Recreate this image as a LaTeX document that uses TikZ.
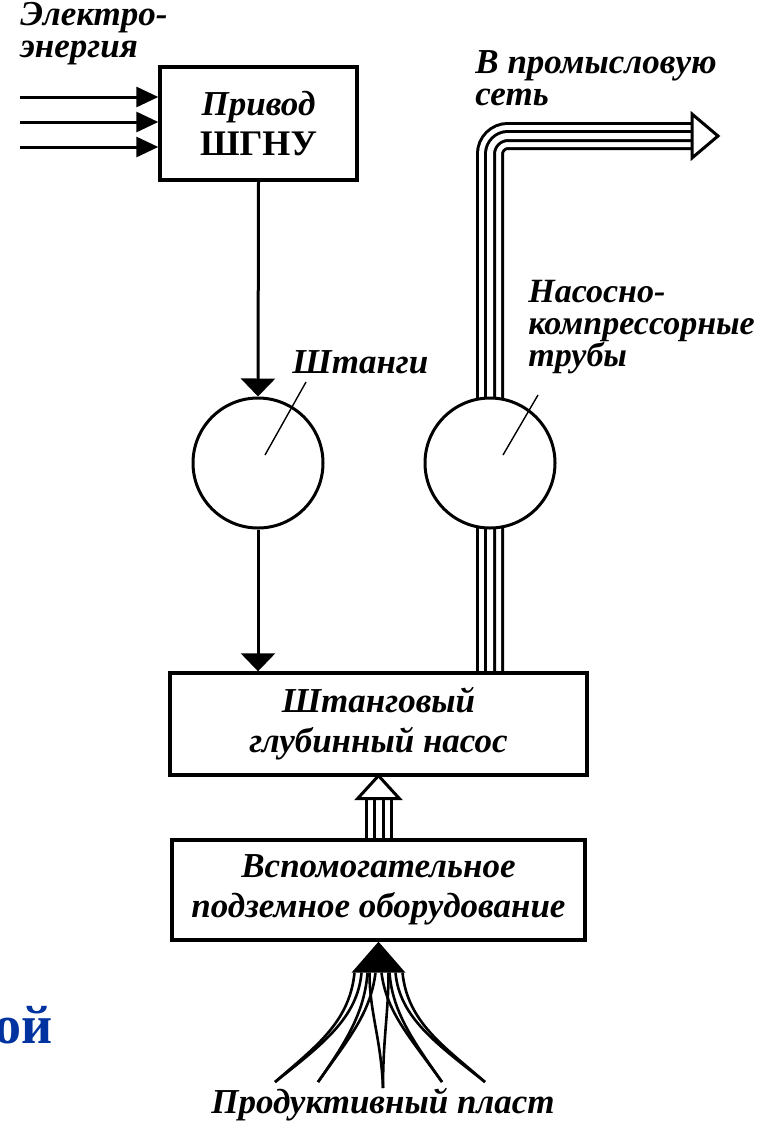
\documentclass[tikz,border=0pt]{standalone}
\usepackage{fontspec}
\setmainfont{Liberation Serif}
\usetikzlibrary{arrows.meta,calc,backgrounds}
\definecolor{slideblue}{RGB}{0,51,160}

\begin{document}
\begin{tikzpicture}[x=0.5pt, y=-0.5pt,
  blok/.style={draw, line width=1.7pt, fill=white, align=center, inner sep=0pt,
    font=\fontsize{17.5}{20}\selectfont\bfseries\itshape},
  uzel/.style={circle, draw, line width=1.5pt, fill=white, minimum size=65pt, inner sep=0pt},
  metka/.style={align=left, inner sep=0pt, anchor=north west,
    font=\fontsize{17.5}{16}\selectfont\bfseries\itshape},
  potok/.style={-{Triangle[length=9pt, width=17pt]}, line width=1.5pt},
  vvod/.style={-{Triangle[length=11pt, width=10pt]}, line width=1.5pt},
  vynoska/.style={line width=0.7pt},
  zhila/.style={line width=1.3pt}]
\useasboundingbox (0,0) rectangle (760,1124);

\node[blok, minimum width=98.5pt, minimum height=56.5pt] (privod) at (258.5,123.5)
  {Привод\\{\normalfont\bfseries\fontsize{18}{20}\selectfont ШГНУ}};
\node[uzel] (shtangi) at (258,463) {};
\node[uzel] (nkt) at (490,463) {};
\node[blok, minimum width=208.5pt, minimum height=51pt] (nasos) at (378.5,724)
  {Штанговый\\глубинный насос};
\node[blok, minimum width=206.5pt, minimum height=50pt] (oborud) at (378.5,890)
  {Вспомогательное\\подземное оборудование};

% labels
\node[metka] (energ) at (20,2) {Электро-\\энергия};
\node[metka] (set) at (475,50) {В промысловую\\сеть};
\node[metka, font=\fontsize{17}{16}\selectfont\bfseries\itshape] (trub) at (528,280) {Насосно-\\компрессорные\\трубы};
\node[metka] (shtlbl) at (292,350) {Штанги};
\node[metka, anchor=north] (plast) at (383,1088) {Продуктивный пласт};
\node[anchor=base west, inner sep=0pt, text=slideblue,
  font=\fontsize{27}{30}\selectfont\bfseries] (obryv) at (-6,1043) {ой};

% electricity
\coordinate (e1) at (20,97);
\coordinate (e2) at (20,122);
\coordinate (e3) at (20,147);
\draw[vvod] (e1) -- (e1 -| privod.west);
\draw[vvod] (e2) -- (e2 -| privod.west);
\draw[vvod] (e3) -- (e3 -| privod.west);

% rods
\draw[potok] (privod.south) -- (shtangi.north);
\draw[potok] (shtangi.south) -- (shtangi.south |- nasos.north);
\draw[vynoska] ($(shtangi)+(7,-8)$) -- ($(shtangi)+(48,-81)$);
\draw[vynoska] ($(nkt)+(13,-8)$) -- ($(nkt)+(48,-68)$);

% tubing
\coordinate (vyhod) at (692,136);
\coordinate (vhod) at ($(nasos.south)+(0,22)$);
\begin{scope}[on background layer]
\foreach \w/\c in {14/black, 11/white, 6/black, 3/white}
  \draw[line width=\w pt, draw=\c, rounded corners=9pt] (nasos.north -| nkt) |- (vyhod);
\foreach \w/\c in {14/black, 11/white, 6/black, 3/white}
  \draw[line width=\w pt, draw=\c] (oborud.north) -- (vhod);
\end{scope}
\draw[line width=1.5pt, fill=white, line join=miter] (vyhod) -- ++(0,-22) -- ++(26,22) -- ++(-26,22) -- cycle;
\draw[line width=1.5pt, fill=white, line join=miter] (vhod) -- ++(-21,0) -- ++(21,-23) -- ++(21,23) -- cycle;

% inflow from the formation
\coordinate (fan) at ($(oborud.south)+(0,31)$);
\coordinate (s1) at (275,1082);
\coordinate (s2) at (318,1082);
\coordinate (s3) at (383,1088);
\coordinate (s4) at (442,1082);
\coordinate (s5) at (485,1082);
\draw[zhila] (s1) .. controls +(40,-35) and +(-5,50) .. ($(fan)+(-24,0)$);
\draw[zhila] (s1) .. controls +(48,-38) and +(-4,45) .. ($(fan)+(-17,0)$);
\draw[zhila] (s2) .. controls +(28,-40) and +(-3,40) .. ($(fan)+(-11,0)$);
\draw[zhila] (s2) .. controls +(32,-45) and +(-5,40) .. ($(fan)+(-3,0)$);
\draw[zhila] (s3) .. controls +(-2,-50) and +(0,40) .. ($(fan)+(-9,0)$);
\draw[zhila] (s3) .. controls +(0,-50) and +(0,40) .. ($(fan)+(10,0)$);
\draw[zhila] (s4) .. controls +(-28,-40) and +(3,40) .. ($(fan)+(11,0)$);
\draw[zhila] (s4) .. controls +(-32,-45) and +(5,40) .. ($(fan)+(3,0)$);
\draw[zhila] (s5) .. controls +(-40,-35) and +(5,50) .. ($(fan)+(24,0)$);
\draw[zhila] (s5) .. controls +(-48,-38) and +(4,45) .. ($(fan)+(17,0)$);
\fill (oborud.south) -- ($(fan)+(-27,0)$) -- ($(fan)+(27,0)$) -- cycle;
\end{tikzpicture}
\end{document}
